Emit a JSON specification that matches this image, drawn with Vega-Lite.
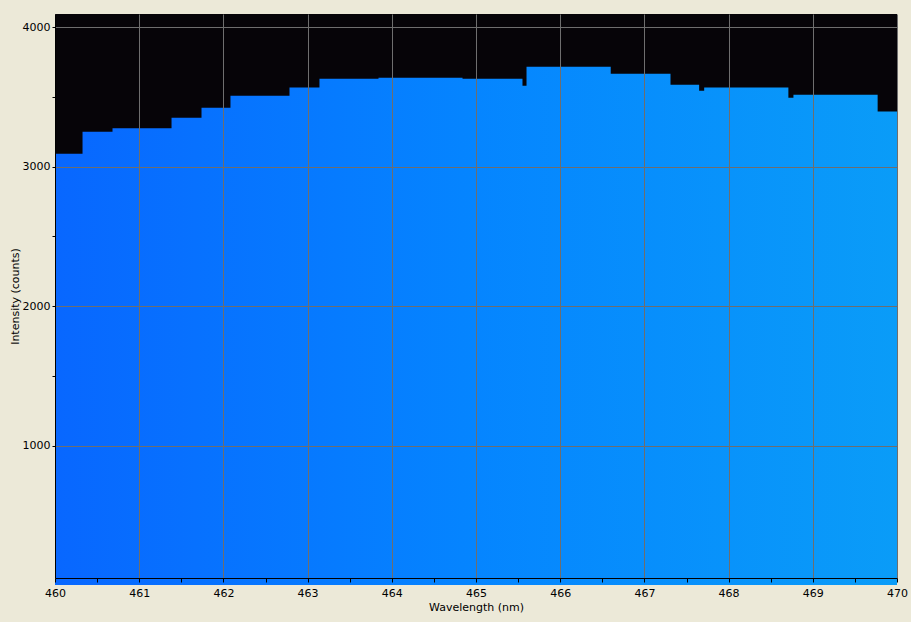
{
  "$schema": "https://vega.github.io/schema/vega-lite/v6.json",
  "width": 842,
  "height": 564,
  "autosize": {"type": "none"},
  "padding": {"left": 55, "top": 14, "right": 14, "bottom": 44},
  "background": "#ECE9D8",
  "config": {
    "view": {"fill": "#060408", "stroke": null},
    "axis": {
      "labelFont": "DejaVu Sans",
      "labelFontSize": 11,
      "labelColor": "#000000",
      "titleFont": "DejaVu Sans",
      "titleFontSize": 11,
      "titleFontWeight": "normal",
      "titleColor": "#000000",
      "domainColor": "#000000",
      "domainWidth": 1,
      "tickColor": "#000000"
    }
  },
  "data": {
    "values": [
      {"wavelength": 460.0, "intensity": 3093},
      {"wavelength": 460.327, "intensity": 3251},
      {"wavelength": 460.683, "intensity": 3275},
      {"wavelength": 461.384, "intensity": 3351},
      {"wavelength": 461.74, "intensity": 3423},
      {"wavelength": 462.084, "intensity": 3509},
      {"wavelength": 462.785, "intensity": 3567},
      {"wavelength": 463.141, "intensity": 3631},
      {"wavelength": 463.842, "intensity": 3638},
      {"wavelength": 464.84, "intensity": 3631},
      {"wavelength": 465.552, "intensity": 3581},
      {"wavelength": 465.6, "intensity": 3717},
      {"wavelength": 466.6, "intensity": 3667},
      {"wavelength": 467.31, "intensity": 3588},
      {"wavelength": 467.65, "intensity": 3545},
      {"wavelength": 467.71, "intensity": 3567},
      {"wavelength": 468.71, "intensity": 3495},
      {"wavelength": 468.77, "intensity": 3516},
      {"wavelength": 469.77, "intensity": 3395},
      {"wavelength": 470.0, "intensity": 3395}
    ]
  },
  "mark": {
    "type": "area",
    "interpolate": "step-after",
    "color": {
      "gradient": "linear",
      "x1": 0, "x2": 1, "y1": 0, "y2": 0,
      "stops": [
        {"offset": 0, "color": "#0867FF"},
        {"offset": 0.5, "color": "#0585FF"},
        {"offset": 1, "color": "#0A9CF8"}
      ]
    }
  },
  "encoding": {
    "x": {
      "field": "wavelength",
      "type": "quantitative",
      "scale": {"domain": [460, 470], "nice": false, "zero": false},
      "axis": {
        "zindex": 1,
        "title": "Wavelength (nm)",
        "values": [460, 460.5, 461, 461.5, 462, 462.5, 463, 463.5, 464, 464.5, 465, 465.5, 466, 466.5, 467, 467.5, 468, 468.5, 469, 469.5, 470],
        "labelExpr": "datum.value % 1 === 0 ? format(datum.value, 'd') : ''",
        "grid": true,
        "gridColor": {"condition": {"test": "datum.value % 1 === 0", "value": "#6e6e6e"}, "value": "transparent"},
        "gridWidth": 1,
        "tickSize": 4,
        "labelPadding": 5,
        "labelFlush": false,
        "titlePadding": 3
      }
    },
    "y": {
      "field": "intensity",
      "type": "quantitative",
      "scale": {"domain": [50, 4095], "nice": false, "zero": false},
      "axis": {
        "zindex": 1,
        "title": "Intensity (counts)",
        "values": [1000, 1500, 2000, 2500, 3000, 3500, 4000],
        "labelExpr": "datum.value % 1000 === 0 ? format(datum.value, 'd') : ''",
        "grid": true,
        "gridColor": {"condition": {"test": "datum.value % 1000 === 0", "value": "#6e6e6e"}, "value": "transparent"},
        "gridWidth": 1,
        "tickSize": 3,
        "labelPadding": 2,
        "titlePadding": 2
      }
    }
  }
}
